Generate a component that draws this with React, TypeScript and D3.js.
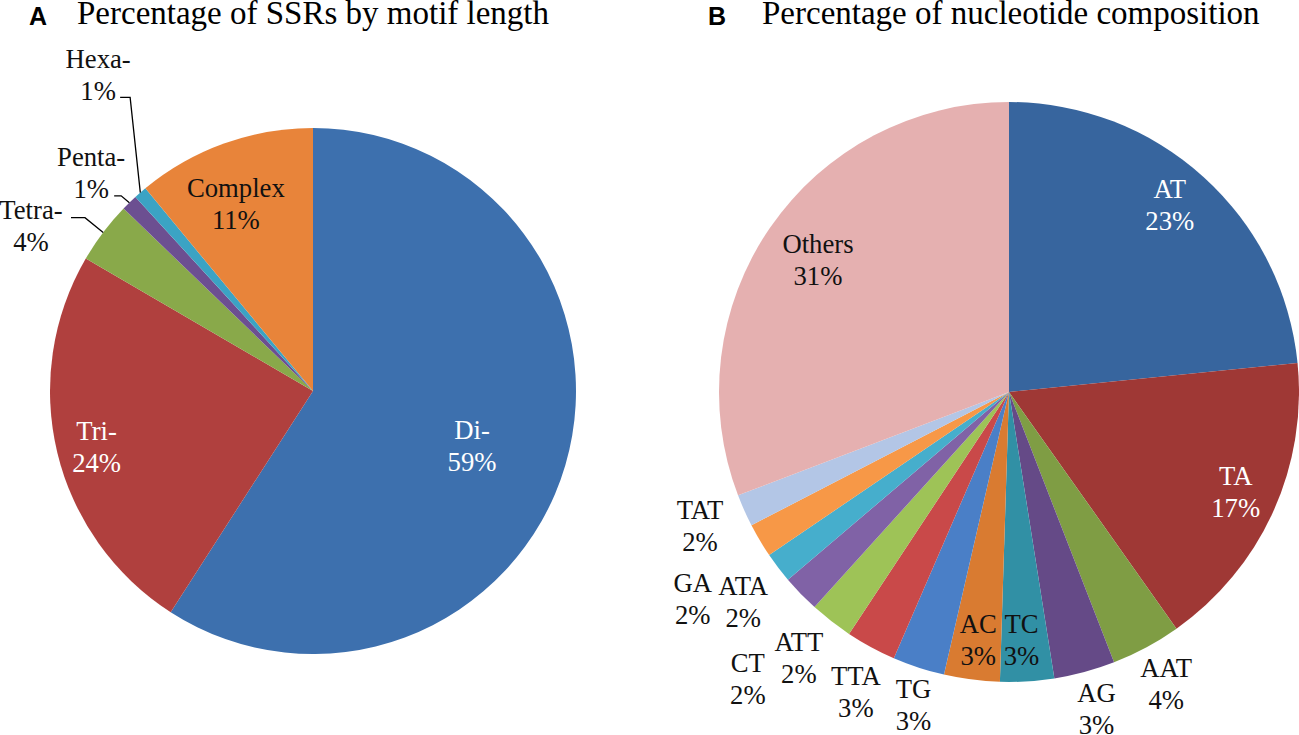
import React from "react";
import * as d3 from "d3";

// ---------- Data ----------
const motifCategories = ["Di-", "Tri-", "Tetra-", "Penta-", "Hexa-", "Complex"];
const motifValues = [59.1, 24.3, 3.8, 1.0, 0.8, 11.0];
const motifColors = ["#3D70AE", "#B0403E", "#89A94A", "#6C4F91", "#3BA3C4", "#E8843A"];

const nucCategories = ["AT", "TA", "AAT", "AG", "TC", "AC", "TG", "TTA", "ATT", "CT", "ATA", "GA", "TAT", "Others"];
const nucValues = [23.4, 16.8, 3.9, 3.4, 3.0, 3.1, 2.9, 2.8, 2.4, 2.1, 1.7, 1.9, 1.8, 30.8];
const nucColors = ["#37659E", "#9F3835", "#7F9D44", "#654A87", "#3190A5", "#D97B31", "#4A7FC7", "#C94949", "#9EC357", "#8062A6", "#46AECC", "#F79847", "#B3C6E6", "#E5B0B0"];

const titleA = "Percentage of SSRs by motif length";
const titleB = "Percentage of nucleotide composition";

// ---------- Layout (label placement, not data) ----------
type LabelLayout = { rf: number; nudge: number; color: string; leader?: { sx: number; sy: number; elbow: number } };

const motifLabelLayout: LabelLayout[] = [
  { rf: 0.64, nudge: 2.7, color: "#fff" },
  { rf: 0.85, nudge: -1, color: "#fff" },
  { rf: 1.243, nudge: -6.7, color: "#111", leader: { sx: 40, sy: -8, elbow: 14 } },
  { rf: 1.183, nudge: -1.2, color: "#111", leader: { sx: 23, sy: 23, elbow: 7 } },
  { rf: 1.452, nudge: 6.8, color: "#111", leader: { sx: 22, sy: 22, elbow: 10 } },
  { rf: 0.77, nudge: -2.6, color: "#111" },
];

const nucLabelLayout: LabelLayout[] = [
  { rf: 0.85, nudge: -1.4, color: "#fff" },
  { rf: 0.855, nudge: -0.6, color: "#fff" },
  { rf: 1.145, nudge: 0, color: "#111" },
  { rf: 1.134, nudge: -0.3, color: "#111" },
  { rf: 0.855, nudge: 0.7, color: "#111" },
  { rf: 0.862, nudge: -0.3, color: "#111" },
  { rf: 1.128, nudge: -1.2, color: "#111" },
  { rf: 1.162, nudge: -1.4, color: "#111" },
  { rf: 1.169, nudge: 0.5, color: "#111" },
  { rf: 1.338, nudge: -3.6, color: "#111" },
  { rf: 1.169, nudge: -1.1, color: "#111" },
  { rf: 1.303, nudge: -2.4, color: "#111" },
  { rf: 1.162, nudge: 0.6, color: "#111" },
  { rf: 0.8, nudge: 0, color: "#111" },
];

const W = 1299;
const H = 735;
const serif = "'Liberation Serif', 'Times New Roman', serif";
const sans = "'Liberation Sans', Arial, sans-serif";
const labelSize = 26.7;
const lineGap = 32;

type PieProps = {
  cx: number;
  cy: number;
  r: number;
  categories: string[];
  values: number[];
  colors: string[];
  layout: LabelLayout[];
};

function Pie({ cx, cy, r, categories, values, colors, layout }: PieProps) {
  const total = d3.sum(values);
  const pie = d3
    .pie<number>()
    .sort(null)
    .value((d) => d)
    .startAngle(0)
    .endAngle(2 * Math.PI);
  const arcs = pie(values);
  const arc = d3.arc<d3.PieArcDatum<number>>().innerRadius(0).outerRadius(r);

  return (
    <g transform={`translate(${cx},${cy})`}>
      {arcs.map((a, i) => (
        <path key={"s" + i} d={arc(a) || ""} fill={colors[i]} />
      ))}
      {arcs.map((a, i) => {
        const L = layout[i];
        const mid = (a.startAngle + a.endAngle) / 2;
        const th = mid + (L.nudge * Math.PI) / 180;
        const lx = L.rf * r * Math.sin(th);
        const ly = -L.rf * r * Math.cos(th);
        const pct = Math.round((values[i] / total) * 100) + "%";
        let leader = null;
        if (L.leader) {
          const sx = lx + L.leader.sx;
          const sy = ly + L.leader.sy;
          const ex = r * Math.sin(mid);
          const ey = -r * Math.cos(mid);
          leader = (
            <polyline
              points={`${sx},${sy} ${sx + L.leader.elbow},${sy} ${ex},${ey}`}
              fill="none"
              stroke="#000"
              strokeWidth={1.3}
            />
          );
        }
        return (
          <g key={"l" + i}>
            {leader}
            <text
              x={lx}
              y={ly}
              textAnchor="middle"
              fontFamily={serif}
              fontSize={labelSize}
              fill={L.color}
            >
              <tspan x={lx} y={ly - 7}>
                {categories[i]}
              </tspan>
              <tspan x={lx} y={ly - 7 + lineGap}>
                {pct}
              </tspan>
            </text>
          </g>
        );
      })}
    </g>
  );
}

export default function App() {
  return (
    <div style={{ position: "absolute", left: 0, top: 0, width: W, height: H, background: "#fff" }}>
      <svg width={W} height={H} viewBox={`0 0 ${W} ${H}`} style={{ display: "block" }}>
        <rect x={0} y={0} width={W} height={H} fill="#fff" />
        <text x={29} y={25} fontFamily={sans} fontWeight="bold" fontSize={25} fill="#000">
          A
        </text>
        <text x={77} y={24} fontFamily={serif} fontSize={33} fill="#000">
          {titleA}
        </text>
        <text x={708} y={25} fontFamily={sans} fontWeight="bold" fontSize={25} fill="#000">
          B
        </text>
        <text x={762} y={24} fontFamily={serif} fontSize={33} fill="#000">
          {titleB}
        </text>
        <Pie
          cx={313}
          cy={391}
          r={263}
          categories={motifCategories}
          values={motifValues}
          colors={motifColors}
          layout={motifLabelLayout}
        />
        <Pie
          cx={1009}
          cy={392}
          r={290}
          categories={nucCategories}
          values={nucValues}
          colors={nucColors}
          layout={nucLabelLayout}
        />
      </svg>
    </div>
  );
}
